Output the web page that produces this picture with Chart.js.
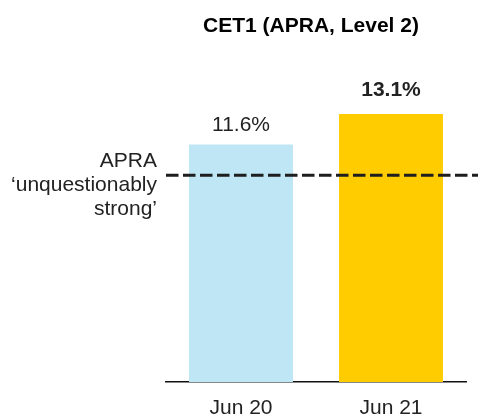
<!DOCTYPE html>
<html>
<head>
<meta charset="utf-8">
<script src="https://cdn.jsdelivr.net/npm/chart.js@4"></script>
<style>
  html, body { margin: 0; padding: 0; background: #fff; }
  #wrap { width: 478px; height: 416px; position: relative; }
</style>
</head>
<body>
<div id="wrap"><canvas id="cet1Chart" width="478" height="416"></canvas></div>
<script>
// values
const periods = ['Jun 20', 'Jun 21'];
const cet1 = [11.6, 13.1];
const valueLabels = ['11.6%', '13.1%'];
const threshold = 10.1;       // APRA 'unquestionably strong' line
const thresholdLabel = ['APRA', '\u2018unquestionably', 'strong\u2019'];
const chartTitle = 'CET1 (APRA, Level 2)';

const barColors = ['#bee6f5', '#ffcc00'];
const textColor = '#222';
const FONT = '"Liberation Sans", Arial, Helvetica, sans-serif';

// extra drawing: title, dashed benchmark line, value labels, side note
const overlay = {
  id: 'overlay',
  afterDatasetsDraw(chart) {
    const { ctx, chartArea, scales } = chart;
    const meta = chart.getDatasetMeta(0);
    ctx.save();

    // dashed line
    const yLine = scales.y.getPixelForValue(threshold);
    ctx.strokeStyle = '#1e1e1e';
    ctx.lineWidth = 3;
    ctx.setLineDash([12.5, 4.5]);
    ctx.beginPath();
    ctx.moveTo(chartArea.left, yLine);
    ctx.lineTo(chart.width, yLine);
    ctx.stroke();
    ctx.setLineDash([]);

    // value labels above bars
    const gaps = [14, 18];
    ctx.textAlign = 'center';
    ctx.textBaseline = 'alphabetic';
    meta.data.forEach((bar, i) => {
      ctx.font = (i === 1 ? 'bold ' : '') + '21px ' + FONT;
      ctx.fillStyle = textColor;
      ctx.fillText(valueLabels[i], bar.x, bar.y - gaps[i]);
    });

    // side note, right aligned
    ctx.font = '21px ' + FONT;
    ctx.textAlign = 'right';
    thresholdLabel.forEach((t, i) => {
      ctx.fillText(t, 157, 167 + i * 24);
    });

    // title
    ctx.font = 'bold 21px ' + FONT;
    ctx.fillStyle = '#000';
    ctx.textAlign = 'center';
    ctx.fillText(chartTitle, 311, 32);

    ctx.restore();
  }
};

new Chart(document.getElementById('cet1Chart'), {
  type: 'bar',
  data: {
    labels: periods,
    datasets: [{
      data: cet1,
      backgroundColor: barColors,
      borderWidth: 0,
      barPercentage: 0.693,
      categoryPercentage: 1
    }]
  },
  options: {
    responsive: false,
    animation: false,
    layout: { padding: { left: 166, right: 12, top: 75, bottom: 0 } },
    plugins: { legend: { display: false }, tooltip: { enabled: false }, title: { display: false } },
    scales: {
      y: { display: false, min: 0, max: 15 },
      x: {
        grid: { display: false, drawTicks: false },
        border: { display: true, color: '#111', width: 1.5 },
        ticks: { color: textColor, font: { family: FONT, size: 21 }, padding: 14 },
        afterFit(scale) { scale.height = 34; }
      }
    }
  },
  plugins: [overlay]
});
</script>
</body>
</html>
